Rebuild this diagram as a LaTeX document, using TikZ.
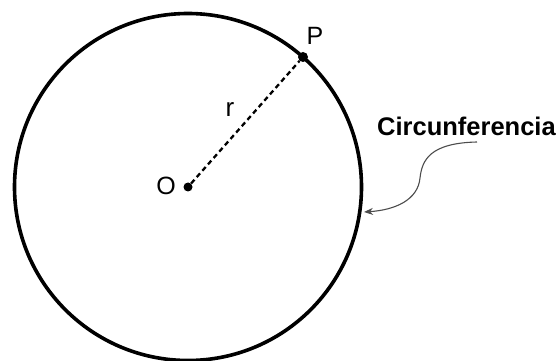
\documentclass[tikz,border=0pt]{standalone}
\usepackage{fontspec}
\setmainfont{Liberation Sans}
\usetikzlibrary{arrows.meta}

\begin{document}
\begin{tikzpicture}[
  x=1pt, y=-1pt,
  rim/.style={draw=black, line width=3.6pt},
  dot/.style={circle, fill=black, minimum size=10pt, inner sep=0pt},
  lbl/.style={font=\fontsize{25}{29}\selectfont, inner sep=0pt},
  rad/.style={dash pattern=on 5pt off 3.5pt, line width=2.3pt},
  callout/.style={-{Stealth[length=9pt, width=7pt]}, draw=black!70, line width=1.1pt}
]
\useasboundingbox (0,0) rectangle (558,361);

% --- Circle ---
\coordinate (c) at (188,187);
\draw[rim] (c) circle[radius=173.5];

% --- Centre and point on the rim ---
\node[dot, minimum size=9pt] (O) at (c) {};
\node[dot] (P) at (303,57) {};
\draw[rad] (O) -- (P);

\node[lbl, anchor=base] (lblO) at (166,195) {O};
\node[lbl, anchor=base] (lblP) at (315,45) {P};
\node[lbl, font=\fontsize{26}{30}\selectfont, anchor=base] (lblr) at (230,117) {r};

% --- Callout ---
\node[lbl, font=\fontsize{25.5}{29}\selectfont\bfseries, anchor=base west] (lblcirc) at (377,136) {Circunferencia};
\coordinate (tail) at (477,142);
\coordinate (tip) at (364,212);
\draw[callout] (tail) .. controls (430,143) and (422,160) .. (420,178)
  .. controls (418,200) and (395,210) .. (tip);

\end{tikzpicture}
\end{document}
